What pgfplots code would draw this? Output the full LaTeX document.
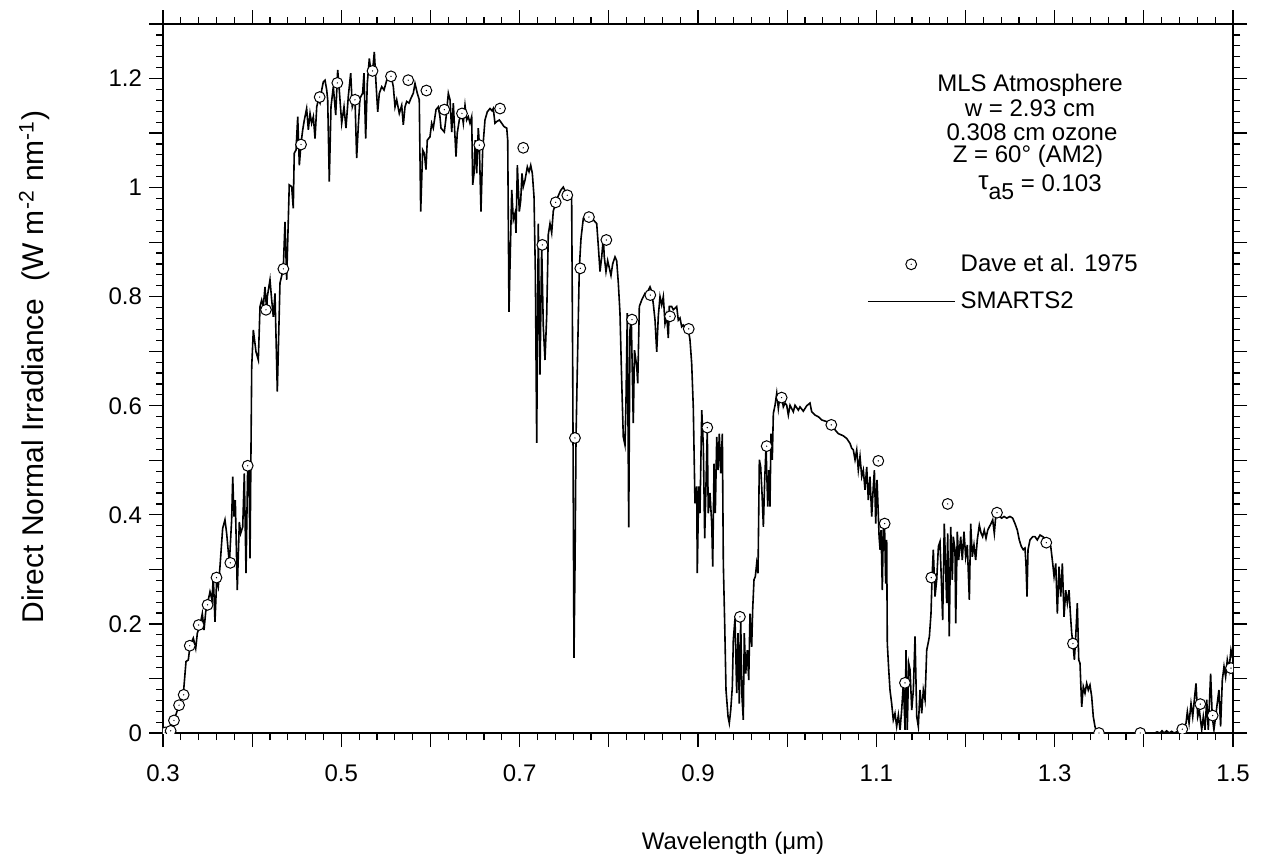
\documentclass[border=0pt]{standalone}
\usepackage{pgfplots}
\pgfplotsset{compat=1.18}
\usepackage{fontspec}
\setmainfont{Liberation Sans}
\pgfdeclareplotmark{dotcirc}{%
  \pgfpathcircle{\pgfpointorigin}{\pgfplotmarksize}%
  \pgfusepathqfillstroke
  \begin{pgfscope}%
  \pgfsetfillcolor{black}%
  \pgfpathcircle{\pgfpointorigin}{0.35pt}%
  \pgfusepathqfill
  \end{pgfscope}%
}
\pgfplotsset{
  lineleg/.style={legend image code/.code={\draw[##1] (0pt,0pt) -- (43.3pt,0pt); \path (46pt,0pt);}},
  markleg/.style={legend image code/.code={\path (0pt,0pt) (46pt,0pt);
    \draw[mark repeat=2,mark phase=2,##1] plot coordinates {(0pt,0pt) (21.65pt,0pt) (43.3pt,0pt)};}},
}
\newcommand{\fs}{\fontsize{12}{14}\selectfont}
\begin{document}
\begin{tikzpicture}
\begin{axis}[
  name=ax, at={(0,0)}, anchor=south west,
  scale only axis, width=535pt, height=354.5pt,
  xmin=0.3, xmax=1.5, ymin=0, ymax=1.3,
  xtick={0.3,0.4,0.5,0.6,0.7,0.8,0.9,1.0,1.1,1.2,1.3,1.4,1.5},
  xticklabels={0.3,,0.5,,0.7,,0.9,,1.1,,1.3,,1.5},
  ytick={0,0.1,0.2,0.3,0.4,0.5,0.6,0.7,0.8,0.9,1.0,1.1,1.2,1.3},
  yticklabels={0,,0.2,,0.4,,0.6,,0.8,,1,,1.2,},
  minor x tick num=4, minor y tick num=4,
  tick align=outside, tick pos=both,
  major tick length=7pt, minor tick length=3.5pt,
  every tick/.style={black, line width=0.6pt},
  axis line style={line width=1.2pt},
  tick label style={font=\fs},
  xticklabel style={yshift=-5.5pt},
  /pgf/number format/assume math mode=true,
  clip marker paths=true,
  reverse legend,
  legend cell align=left,
  legend style={at={(axis cs:1.0892,0.8788)}, anchor=north west, draw=none, fill=none,
    font=\fs, inner sep=0pt, row sep=8.5pt,
    nodes={inner sep=0pt}},
]
\addplot[black, line width=0.8pt, lineleg] table {
x y
0.301 0
0.3079 0.004
0.3123 0.023
0.318 0.051
0.3232 0.079
0.3258 0.131
0.3284 0.134
0.3303 0.160
0.334 0.174
0.3367 0.155
0.3385 0.183
0.3415 0.198
0.3441 0.219
0.346 0.189
0.3479 0.222
0.3508 0.244
0.3527 0.259
0.355 0.244
0.3564 0.287
0.3583 0.204
0.3602 0.281
0.362 0.268
0.3639 0.305
0.3669 0.375
0.3695 0.391
0.3714 0.366
0.3744 0.311
0.377 0.391
0.3782 0.470
0.3796 0.397
0.3811 0.427
0.3833 0.262
0.3856 0.387
0.3871 0.366
0.3894 0.378
0.3912 0.476
0.3931 0.293
0.395 0.491
0.3964 0.488
0.3976 0.320
0.3995 0.672
0.4013 0.739
0.4043 0.699
0.4069 0.684
0.4088 0.782
0.4107 0.794
0.4125 0.782
0.4144 0.818
0.4163 0.774
0.417 0.80
0.42 0.831
0.4219 0.794
0.4237 0.763
0.4256 0.806
0.4282 0.626
0.4312 0.825
0.4349 0.851
0.4368 0.937
0.4387 0.831
0.4416 1.005
0.4443 1.002
0.4461 0.962
0.4472 1.063
0.4492 1.069
0.4511 1.130
0.4529 1.041
0.4548 1.081
0.4567 1.106
0.4585 1.124
0.4611 1.145
0.463 1.106
0.4649 1.136
0.4667 1.118
0.4686 1.130
0.4705 1.090
0.4724 1.148
0.4742 1.161
0.4761 1.155
0.478 1.179
0.4798 1.194
0.4817 1.197
0.4836 1.179
0.4847 1.161
0.4865 1.011
0.4884 1.148
0.491 1.185
0.4937 1.133
0.4959 1.216
0.4977 1.179
0.5004 1.118
0.503 1.148
0.5052 1.109
0.5078 1.167
0.5105 1.21
0.5123 1.148
0.5153 1.164
0.5172 1.054
0.519 1.112
0.5209 1.164
0.5239 1.173
0.5254 1.21
0.5273 1.09
0.5291 1.191
0.5314 1.237
0.5333 1.21
0.5352 1.216
0.537 1.249
0.5389 1.191
0.5408 1.139
0.5426 1.173
0.5453 1.185
0.5479 1.179
0.5509 1.197
0.5531 1.204
0.5557 1.206
0.5583 1.185
0.5602 1.148
0.5621 1.161
0.565 1.136
0.5677 1.151
0.5695 1.115
0.5714 1.148
0.5733 1.158
0.5759 1.155
0.5781 1.164
0.5807 1.173
0.5826 1.191
0.5852 1.173
0.5874 1.161
0.589 0.956
0.5912 1.069
0.5931 1.063
0.5949 1.033
0.5964 1.087
0.5994 1.093
0.6013 1.118
0.6031 1.109
0.6062 1.143
0.6087 1.148
0.6106 1.130
0.6118 1.109
0.6155 1.102
0.6174 1.128
0.62 1.173
0.6219 1.161
0.6238 1.102
0.6256 1.155
0.6267 1.118
0.6286 1.057
0.63 1.1
0.6323 1.124
0.6353 1.136
0.6368 1.118
0.6387 1.151
0.6406 1.124
0.6424 1.130
0.6443 1.118
0.6462 1.130
0.6473 1.005
0.6488 1.026
0.6502 1.087
0.6518 1.026
0.6536 1.109
0.6547 1.081
0.6566 0.956
0.6585 1.069
0.6611 1.124
0.6637 1.139
0.6667 1.145
0.669 1.141
0.6704 1.145
0.6723 1.118
0.6742 1.121
0.6772 1.124
0.6799 1.118
0.6824 1.112
0.6855 1.109
0.6866 1.087
0.688 0.772
0.6895 0.880
0.6911 0.996
0.6929 0.941
0.6948 0.953
0.6959 0.917
0.6974 1.041
0.6996 0.956
0.7012 0.977
0.7026 1.026
0.7041 1.002
0.706 1.014
0.7086 1.038
0.7105 1.029
0.7124 1.041
0.7142 1.026
0.7161 0.983
0.7176 0.843
0.7191 0.532
0.7209 0.934
0.7228 0.657
0.7247 0.893
0.7265 0.745
0.7284 0.684
0.7303 0.765
0.7321 0.914
0.734 0.934
0.7359 0.917
0.7377 0.957
0.7407 0.974
0.7433 0.985
0.746 0.995
0.7489 1.001
0.7527 0.988
0.7564 0.985
0.7583 0.981
0.7595 0.664
0.7609 0.138
0.7621 0.313
0.7632 0.542
0.7646 0.664
0.7669 0.853
0.7688 0.907
0.7714 0.944
0.7752 0.951
0.7789 0.947
0.7826 0.941
0.7864 0.934
0.7882 0.893
0.7901 0.846
0.792 0.873
0.7938 0.907
0.7949 0.873
0.7968 0.846
0.7987 0.866
0.8005 0.853
0.8024 0.839
0.8043 0.860
0.8069 0.873
0.8088 0.866
0.8106 0.826
0.8125 0.770
0.8144 0.647
0.8162 0.543
0.8181 0.528
0.8192 0.605
0.8207 0.770
0.8223 0.377
0.8237 0.739
0.8252 0.758
0.8274 0.568
0.8288 0.702
0.8313 0.672
0.8324 0.641
0.8342 0.782
0.8369 0.794
0.8387 0.800
0.8406 0.806
0.8425 0.803
0.8443 0.812
0.8462 0.818
0.8481 0.809
0.85 0.785
0.8518 0.757
0.8537 0.699
0.8555 0.765
0.8574 0.800
0.8593 0.785
0.8611 0.800
0.863 0.751
0.8649 0.766
0.8667 0.724
0.8678 0.782
0.8705 0.782
0.8723 0.776
0.8742 0.779
0.8761 0.782
0.8779 0.757
0.8798 0.761
0.8817 0.745
0.8835 0.748
0.8854 0.743
0.8891 0.740
0.891 0.721
0.8929 0.678
0.8947 0.598
0.8966 0.421
0.8985 0.452
0.8992 0.293
0.9008 0.452
0.9022 0.403
0.9042 0.592
0.906 0.525
0.9075 0.357
0.909 0.458
0.9104 0.556
0.9115 0.403
0.9134 0.440
0.9154 0.384
0.9165 0.305
0.918 0.494
0.9194 0.403
0.921 0.543
0.9225 0.482
0.9239 0.549
0.9255 0.476
0.9273 0.549
0.9284 0.311
0.93 0.195
0.9314 0.079
0.9337 0.030
0.9351 0.018
0.9367 0.042
0.9385 0.085
0.9396 0.171
0.9415 0.210
0.9434 0.073
0.9449 0.183
0.9463 0.054
0.9479 0.207
0.9493 0.067
0.9508 0.024
0.9519 0.183
0.9535 0.109
0.9553 0.152
0.9569 0.097
0.9583 0.219
0.9602 0.158
0.9613 0.226
0.9628 0.281
0.9643 0.287
0.9658 0.311
0.9673 0.293
0.9688 0.501
0.9703 0.488
0.9718 0.439
0.9733 0.378
0.9748 0.464
0.9763 0.525
0.9782 0.415
0.9796 0.482
0.9807 0.415
0.9819 0.549
0.9833 0.501
0.9845 0.586
0.9864 0.601
0.9883 0.623
0.9901 0.595
0.992 0.620
0.9939 0.616
0.9957 0.598
0.9976 0.605
0.9995 0.601
1.0013 0.583
1.0032 0.601
1.0069 0.589
1.0088 0.601
1.0125 0.592
1.0144 0.598
1.0181 0.590
1.0219 0.600
1.0256 0.605
1.0275 0.589
1.0312 0.583
1.0349 0.580
1.0387 0.574
1.0443 0.571
1.0491 0.565
1.0536 0.556
1.0573 0.549
1.0629 0.545
1.0668 0.540
1.0705 0.531
1.0724 0.522
1.0742 0.519
1.0761 0.501
1.078 0.519
1.0798 0.482
1.0817 0.507
1.0836 0.470
1.0854 0.482
1.0873 0.446
1.0892 0.488
1.091 0.427
1.0929 0.470
1.0948 0.397
1.0966 0.452
1.0978 0.482
1.0993 0.384
1.1008 0.464
1.1031 0.360
1.1042 0.336
1.1053 0.372
1.1067 0.262
1.1078 0.372
1.1092 0.381
1.1105 0.274
1.1116 0.354
1.1123 0.164
1.1139 0.116
1.1153 0.079
1.1172 0.054
1.119 0.024
1.1209 0.036
1.1228 0.012
1.1247 0.033
1.1266 0.006
1.1284 0.042
1.1303 0.091
1.1322 0.006
1.1333 0.152
1.1347 0.006
1.1363 0.128
1.1378 0.116
1.1397 0.042
1.1415 0.079
1.1434 0.177
1.1453 0.030
1.1471 0.012
1.149 0.079
1.1509 0.036
1.1527 0.079
1.1546 0.061
1.1565 0.152
1.158 0.164
1.1595 0.177
1.1613 0.219
1.1625 0.286
1.1639 0.336
1.1658 0.250
1.1677 0.281
1.1696 0.342
1.1714 0.351
1.1729 0.281
1.1744 0.207
1.1762 0.384
1.1789 0.238
1.18 0.366
1.1818 0.177
1.1834 0.378
1.1852 0.281
1.1863 0.360
1.1882 0.336
1.189 0.201
1.1908 0.369
1.1923 0.317
1.1946 0.360
1.1964 0.317
1.1983 0.369
1.2002 0.323
1.202 0.345
1.2043 0.244
1.2058 0.384
1.2076 0.323
1.2095 0.345
1.2114 0.317
1.2132 0.354
1.2155 0.381
1.2174 0.367
1.2192 0.360
1.221 0.372
1.223 0.357
1.2249 0.372
1.2267 0.378
1.2286 0.384
1.2305 0.391
1.2323 0.366
1.2339 0.397
1.2353 0.404
1.2379 0.397
1.2406 0.394
1.2432 0.397
1.2462 0.394
1.2499 0.397
1.2529 0.394
1.2555 0.384
1.2581 0.372
1.2603 0.354
1.2626 0.342
1.2648 0.336
1.2667 0.339
1.2678 0.311
1.269 0.250
1.2701 0.336
1.2723 0.354
1.2754 0.360
1.2779 0.360
1.2805 0.354
1.2836 0.363
1.2866 0.360
1.2892 0.357
1.2929 0.351
1.2956 0.342
1.2978 0.311
1.2993 0.287
1.3012 0.311
1.303 0.219
1.3049 0.305
1.3068 0.250
1.3086 0.311
1.3105 0.213
1.3124 0.262
1.3142 0.238
1.3161 0.262
1.3176 0.219
1.3191 0.183
1.3206 0.163
1.3221 0.134
1.3236 0.177
1.3254 0.238
1.327 0.134
1.3284 0.128
1.3303 0.048
1.3321 0.085
1.334 0.073
1.3359 0.091
1.3377 0.079
1.3396 0.088
1.3415 0.067
1.3433 0.030
1.3452 0.012
1.3471 0.002
1.3497 0
1.4125 0
1.4148 0.002
1.4181 0
1.4204 0.004
1.4226 0
1.4256 0.004
1.4282 0
1.4312 0.003
1.4338 0
1.4368 0.002
1.4405 0
1.4442 0.009
1.4473 0.018
1.4488 0.039
1.4507 0.018
1.4529 0.054
1.4548 0.030
1.457 0.067
1.4585 0.091
1.4604 0.030
1.4622 0.042
1.4649 0.006
1.4667 0.030
1.4686 0.006
1.4705 0.061
1.4723 0.006
1.4749 0.109
1.4767 0.030
1.4786 0.006
1.4805 0.030
1.4823 0.054
1.4842 0.079
1.4861 0.012
1.488 0.097
1.4899 0.122
1.4917 0.103
1.4936 0.134
1.4955 0.116
1.4977 0.152
1.4992 0.140
1.5 0.158
};
\addlegendentry{SMARTS2}
\addplot[only marks, mark=dotcirc, mark size=2.7pt,
  mark options={fill=white, draw=black, line width=0.5pt}, markleg] table {
x y
0.3025 0.001
0.3086 0.004
0.3123 0.023
0.318 0.051
0.3232 0.070
0.330 0.160
0.340 0.198
0.350 0.235
0.360 0.285
0.3755 0.312
0.395 0.490
0.4155 0.776
0.435 0.851
0.4548 1.079
0.4757 1.166
0.4955 1.192
0.5153 1.161
0.535 1.214
0.5557 1.204
0.575 1.197
0.5954 1.178
0.6155 1.143
0.6353 1.136
0.6547 1.078
0.678 1.145
0.704 1.073
0.7254 0.895
0.7404 0.973
0.7534 0.986
0.762 0.541
0.768 0.852
0.7777 0.946
0.7972 0.904
0.826 0.758
0.8465 0.803
0.8686 0.764
0.8896 0.741
0.9104 0.560
0.947 0.213
0.977 0.526
0.9938 0.615
1.0495 0.565
1.1022 0.499
1.1093 0.384
1.1321 0.092
1.1616 0.285
1.18 0.420
1.2353 0.404
1.2906 0.349
1.3205 0.164
1.3497 0
1.396 0
1.4431 0.007
1.4633 0.053
1.4772 0.032
1.4977 0.119
};
\addlegendentry{Dave et al. 1975}
\end{axis}
\node[font=\fs, anchor=base] at (433.5pt,320.65pt) {MLS Atmosphere};
\node[font=\fs, anchor=base] at (433.5pt,308.5pt) {w = 2.93 cm};
\node[font=\fs, anchor=base] at (434.5pt,296.3pt) {0.308 cm ozone};
\node[font=\fs, anchor=base] at (432.5pt,285.3pt) {Z = 60° (AM2)};
\node[font=\fs, anchor=base] at (438.5pt,271pt) {\raisebox{1pt}{\fontsize{13}{15}\selectfont τ}\raisebox{-4pt}{\fontsize{11.5}{13}\selectfont a5} = 0.103};
\node[font=\fs] at (285pt,-55pt) {Wavelength (μm)};
\node[font=\fontsize{15}{18}\selectfont, rotate=90, anchor=base] at (-59.5pt,183pt) {Direct Normal Irradiance\ \ (W m\textsuperscript{-2} nm\textsuperscript{-1})};
\pgfresetboundingbox
\path (-81.5pt,-63pt) rectangle (552.5pt,366.5pt);
\end{tikzpicture}
\end{document}
